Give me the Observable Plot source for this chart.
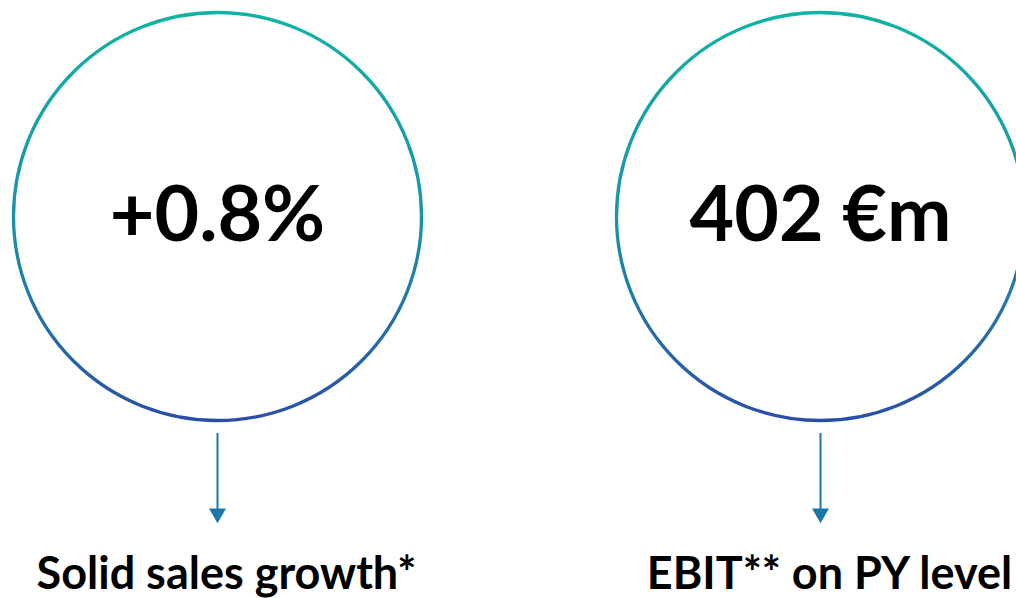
<!DOCTYPE html>
<html>
<head>
<meta charset="utf-8">
<script src="https://cdn.jsdelivr.net/npm/d3@7"></script>
<script src="https://cdn.jsdelivr.net/npm/@observablehq/plot@0.6"></script>
<style>
  html, body { margin: 0; padding: 0; background: #fff; overflow: hidden; }
</style>
</head>
<body>
<div id="chart"></div>
<script>
const categories = ["Sales growth", "EBIT"];
const values = ["+0.8%", "402 €m"];
const captions = ["Solid sales growth*", "EBIT** on PY level"];

const data = categories.map((c, i) => ({category: c, value: values[i], caption: captions[i]}));

const FONT = "Lato, 'Open Sans', sans-serif";
const ARROW = "#1a78a8";

function gradientDefs() {
  const defs = d3.create("svg:defs");
  const g = defs.append("linearGradient")
    .attr("id", "ring")
    .attr("x1", 0).attr("y1", 0).attr("x2", 0).attr("y2", 1);
  g.append("stop").attr("offset", 0).attr("stop-color", "#0fb3a2");
  g.append("stop").attr("offset", 0.5).attr("stop-color", "#1a93ab");
  g.append("stop").attr("offset", 1).attr("stop-color", "#2a4ea8");
  return defs.node();
}

const chart = Plot.plot({
  width: 1016,
  height: 598,
  margin: 0,
  style: {background: "#fff", overflow: "hidden"},
  x: {type: "point", domain: categories, range: [217, 820], padding: 0, align: 0.5, axis: null},
  y: {type: "linear", domain: [0, 598], range: [0, 598], axis: null},
  marks: [
    gradientDefs,
    Plot.dot(data, {x: "category", y: () => 216, r: 204, fill: "none", stroke: "url(#ring)", strokeWidth: 3.3}),
    Plot.text(data, {x: "category", y: () => 240, text: "value", lineAnchor: "bottom",
      fontSize: 77, fontWeight: "bold", fontFamily: FONT, fill: "#000"}),
    Plot.ruleX(data, {x: "category", y1: () => 433, y2: () => 510, stroke: ARROW, strokeWidth: 2}),
    Plot.dot(data, {x: "category", y: () => 513, symbol: "triangle", rotate: 180, r: 6.3, fill: ARROW, stroke: "none"}),
    Plot.text(data, {x: "category", y: () => 588, dx: 9, text: "caption", lineAnchor: "bottom",
      fontSize: 45, fontWeight: "bold", fontFamily: FONT, fill: "#000"})
  ]
});

document.getElementById("chart").append(chart);
</script>
</body>
</html>
